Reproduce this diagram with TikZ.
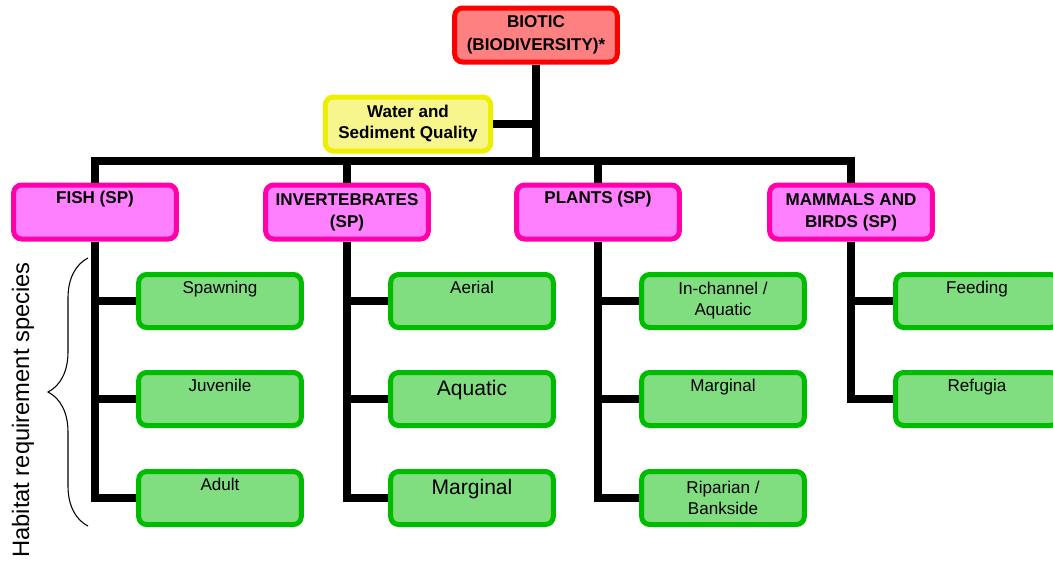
\documentclass[tikz,border=0pt]{standalone}
\usepackage{fontspec}
\setmainfont{Liberation Sans}
\usepackage{xcolor}
\usepackage{tikz}
\usetikzlibrary{decorations.pathreplacing}

\definecolor{bioticred}{RGB}{255,0,0}
\definecolor{bioticfill}{RGB}{255,128,128}
\definecolor{wateryellow}{RGB}{238,238,0}
\definecolor{waterfill}{RGB}{246,246,140}
\definecolor{groupmag}{RGB}{255,0,170}
\definecolor{groupfill}{RGB}{255,128,255}
\definecolor{habgreen}{RGB}{0,188,0}
\definecolor{habfill}{RGB}{128,222,128}

\begin{document}
\begin{tikzpicture}[x=0.75pt, y=-0.75pt,
  box/.style={rectangle, rounded corners=6pt, line width=3.75pt, minimum width=122pt, minimum height=40.5pt, align=center, inner sep=2pt, font=\fontsize{12.8}{15.8}\selectfont},
  topbox/.style={box, draw=bioticred, fill=bioticfill, font=\fontsize{12.8}{17.2}\selectfont\bfseries},
  waterbox/.style={box, draw=wateryellow, fill=waterfill, minimum width=124pt, font=\fontsize{12.8}{15.8}\selectfont\bfseries},
  groupbox/.style={box, draw=groupmag, fill=groupfill, font=\fontsize{12.8}{16.5}\selectfont\bfseries},
  habbox/.style={box, draw=habgreen, fill=habfill, minimum height=39.75pt},
  bigtext/.style={font=\fontsize{15.8}{15.8}\selectfont},
  conn/.style={line width=5.4pt, black}
]
\useasboundingbox (0,0) rectangle (1053,562);
\clip (0,0) rectangle (1053,562);

% Top level
\node[topbox] (biotic) at (536,35) {BIOTIC\\(BIODIVERSITY)*};
\node[waterbox] (water) at (408,124) {Water and\\Sediment Quality};

% Species groups
\node[groupbox] (fish) at (95,212) {FISH (SP)\\\strut};
\node[groupbox] (invert) at (347,212) {INVERTEBRATES\\(SP)};
\node[groupbox] (plants) at (598,212) {PLANTS (SP)\\\strut};
\node[groupbox] (mammals) at (851,212) {MAMMALS AND\\BIRDS (SP)};

% Habitat requirements
\node[habbox] (fishspawn) at (220,301) {Spawning\\\strut};
\node[habbox] (fishjuv) at (220,399) {Juvenile\\\strut};
\node[habbox] (fishadult) at (220,498) {Adult\\\strut};

\node[habbox] (invaerial) at (472,301) {Aerial\\\strut};
\node[habbox, bigtext] (invaquatic) at (472,399) {Aquatic\\[-4pt]\strut};
\node[habbox, bigtext] (invmarginal) at (472,498) {Marginal\\[-4pt]\strut};

\node[habbox] (plantchannel) at (723,301) {In-channel /\\Aquatic};
\node[habbox] (plantmarginal) at (723,399) {Marginal\\\strut};
\node[habbox] (plantriparian) at (723,498) {Riparian /\\Bankside};

\node[habbox] (mamfeeding) at (977,301) {Feeding\\\strut};
\node[habbox] (mamrefugia) at (977,399) {Refugia\\\strut};

% Side label
\node[rotate=90, font=\fontsize{17.8}{20}\selectfont] (habitat) at (23,410) {Habitat requirement species};
\coordinate (bracetop) at (88,258);
\coordinate (bracebottom) at (88,526);
\draw[thick, decorate, decoration={brace, amplitude=30pt}] (bracebottom) -- (bracetop);

% Connections
\coordinate (bar) at (536,161);
\draw[conn] (biotic.south) -- (bar);
\draw[conn] (water.east) -- (water.east -| bar);
\draw[conn] (fish.north) -- (fish.north |- bar) -- (mammals.north |- bar) -- (mammals.north);
\draw[conn] (invert.north) -- (invert.north |- bar);
\draw[conn] (plants.north) -- (plants.north |- bar);

\draw[conn] (fish.south) -- (fish.south |- fishadult.west) -- (fishadult.west);
\draw[conn] (fish.south |- fishspawn.west) -- (fishspawn.west);
\draw[conn] (fish.south |- fishjuv.west) -- (fishjuv.west);

\draw[conn] (invert.south) -- (invert.south |- invmarginal.west) -- (invmarginal.west);
\draw[conn] (invert.south |- invaerial.west) -- (invaerial.west);
\draw[conn] (invert.south |- invaquatic.west) -- (invaquatic.west);

\draw[conn] (plants.south) -- (plants.south |- plantriparian.west) -- (plantriparian.west);
\draw[conn] (plants.south |- plantchannel.west) -- (plantchannel.west);
\draw[conn] (plants.south |- plantmarginal.west) -- (plantmarginal.west);

\draw[conn] (mammals.south) -- (mammals.south |- mamrefugia.west) -- (mamrefugia.west);
\draw[conn] (mammals.south |- mamfeeding.west) -- (mamfeeding.west);

\end{tikzpicture}
\end{document}
